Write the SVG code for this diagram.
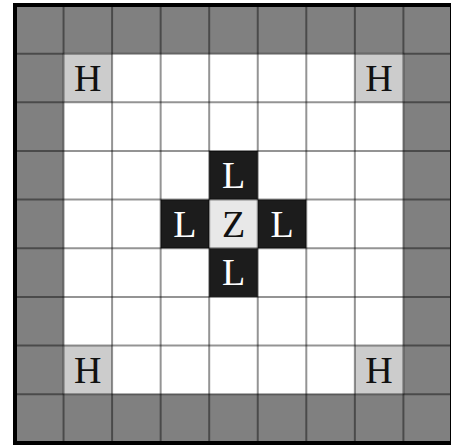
<svg xmlns="http://www.w3.org/2000/svg" width="451" height="447" viewBox="0 0 451 447">
<style>
.ring{fill:#808080}
.h{fill:#cccccc}
.l{fill:#1c1c1c}
.z{fill:#e8e8e8}
.grid{stroke:#000;stroke-opacity:0.42;stroke-width:2;fill:none}
.t{font-family:"Liberation Serif","DejaVu Serif",serif;font-size:38px;text-anchor:middle}
.tw{fill:#ffffff}
.tb{fill:#111111}
</style>
<rect x="0" y="0" width="451" height="447" fill="#ffffff"/>
<!-- outer ring of gray cells -->
<g id="ring">
<rect class="ring" x="15" y="5" width="437" height="48.65"/>
<rect class="ring" x="15" y="394.2" width="437" height="48.8"/>
<rect class="ring" x="15" y="5" width="48.55" height="438"/>
<rect class="ring" x="403.4" y="5" width="48.6" height="438"/>
</g>
<g id="H1"><rect class="h" x="63.55" y="53.65" width="48.55" height="48.65"/><text class="t tb" x="87.8" y="90.7">H</text></g>
<g id="H2"><rect class="h" x="354.85" y="53.65" width="48.55" height="48.65"/><text class="t tb" x="379.1" y="90.7">H</text></g>
<g id="H3"><rect class="h" x="63.55" y="345.55" width="48.55" height="48.65"/><text class="t tb" x="87.8" y="382.6">H</text></g>
<g id="H4"><rect class="h" x="354.85" y="345.55" width="48.55" height="48.65"/><text class="t tb" x="379.1" y="382.6">H</text></g>
<g id="Ltop"><rect class="l" x="209.2" y="150.95" width="48.55" height="48.65"/><text class="t tw" x="233.5" y="188">L</text></g>
<g id="Lleft"><rect class="l" x="160.65" y="199.6" width="48.55" height="48.65"/><text class="t tw" x="184.9" y="236.6">L</text></g>
<g id="Lright"><rect class="l" x="257.75" y="199.6" width="48.55" height="48.65"/><text class="t tw" x="282" y="236.6">L</text></g>
<g id="Lbottom"><rect class="l" x="209.2" y="248.25" width="48.55" height="48.65"/><text class="t tw" x="233.5" y="285.3">L</text></g>
<g id="Z"><rect class="z" x="209.2" y="199.6" width="48.55" height="48.65"/><text class="t tb" x="233.5" y="236.6">Z</text></g>
<!-- grid lines -->
<g id="gridlines" class="grid">
<path d="M63.55 5V443M112.1 5V443M160.65 5V443M209.2 5V443M257.75 5V443M306.3 5V443M354.85 5V443M403.4 5V443"/>
<path d="M15 53.65H452M15 102.3H452M15 150.95H452M15 199.6H452M15 248.25H452M15 296.9H452M15 345.55H452M15 394.2H452"/>
</g>
<rect x="15" y="5" width="437" height="438" fill="none" stroke="#000" stroke-width="4"/>
</svg>
